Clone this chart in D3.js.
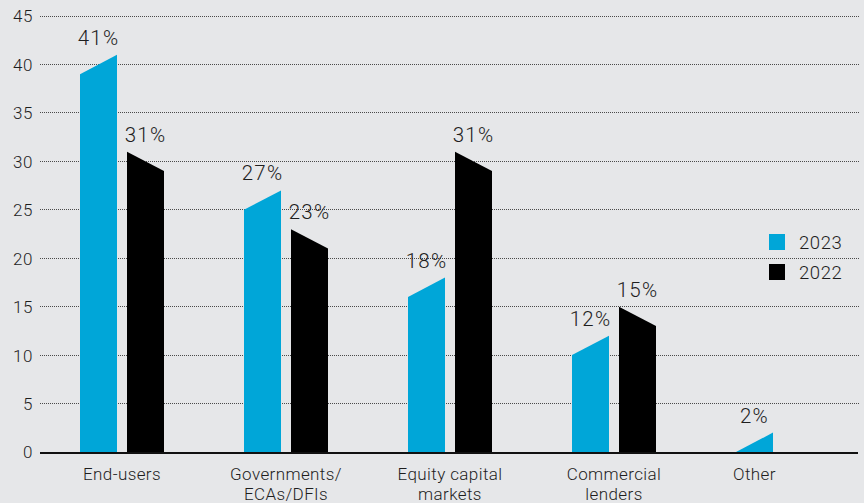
<!DOCTYPE html>
<html>
<head>
<meta charset="utf-8">
<script src="https://cdn.jsdelivr.net/npm/d3@7"></script>
<style>
  html, body { margin: 0; padding: 0; background: #e6e7e9; }
  svg { display: block; font-family: Roboto, "Liberation Sans", Arial, sans-serif; font-weight: 300; }
</style>
</head>
<body>
<svg id="chart" width="864" height="503"></svg>
<script>
// Sources of funding, share of respondents (%)
const categories = [["End-users"], ["Governments/", "ECAs/DFIs"], ["Equity capital", "markets"], ["Commercial", "lenders"], ["Other"]];
const series = ["2023", "2022"];
const values2023 = [41, 27, 18, 12, 2];
const values2022 = [31, 23, 31, 15, null];
const yTicks = [0, 5, 10, 15, 20, 25, 30, 35, 40, 45];
const colors = { "2023": "#00a6d8", "2022": "#000000" };
const slant = 2; // bar tops are cut on a slope of this many units

const svg = d3.select("#chart");

const catKeys = categories.map(c => c.join(" "));
const x0 = d3.scaleBand().domain(catKeys).range([40, 860]).padding(0);
const x1 = d3.scaleBand().domain(series).range([40, x0.bandwidth() - 40]).paddingInner(10 / 47).paddingOuter(0);
const y = d3.scaleLinear().domain([0, 45]).range([452, 16]);

// gridlines
svg.append("g")
  .selectAll("line")
  .data(yTicks.filter(t => t > 0))
  .join("line")
  .attr("x1", 40).attr("x2", 860)
  .attr("y1", d => y(d)).attr("y2", d => y(d))
  .attr("stroke", "#4a4a4a")
  .attr("stroke-width", 1)
  .attr("stroke-dasharray", "1,1")
  .attr("shape-rendering", "crispEdges");

// y axis labels
const yAxis = d3.axisLeft(y).tickValues(yTicks).tickSize(0).tickPadding(0);
const gy = svg.append("g").attr("transform", "translate(33,0)").call(yAxis);
gy.select(".domain").remove();
gy.selectAll("text")
  .attr("font-size", 17)
  .attr("fill", "#1e1e1e")
  .attr("letter-spacing", 0.6)
  .attr("dy", "0.35em")
  .style("font-family", "Roboto, 'Liberation Sans', Arial, sans-serif")
  .style("font-weight", 300);

// bars
const rows = catKeys.map((k, i) => ({ key: k, label: categories[i], v: { "2023": values2023[i], "2022": values2022[i] } }));

const groups = svg.append("g").selectAll("g")
  .data(rows)
  .join("g")
  .attr("transform", d => `translate(${x0(d.key)},0)`);

function barPath(s, v) {
  const xl = x1(s), xr = x1(s) + x1.bandwidth();
  const hiLeft = s === "2022";
  const yl = y(hiLeft ? v : Math.max(0, v - slant));
  const yr = y(hiLeft ? Math.max(0, v - slant) : v);
  return `M${xl},${y(0)}L${xl},${yl}L${xr},${yr}L${xr},${y(0)}Z`;
}

groups.selectAll("path")
  .data(d => series.filter(s => d.v[s] != null).map(s => ({ s, v: d.v[s] })))
  .join("path")
  .attr("d", d => barPath(d.s, d.v))
  .attr("fill", d => colors[d.s]);

groups.selectAll("text.val")
  .data(d => series.filter(s => d.v[s] != null).map(s => ({ s, v: d.v[s] })))
  .join("text")
  .attr("class", "val")
  .attr("x", d => x1(d.s) + x1.bandwidth() / 2)
  .attr("y", d => y(d.v) - 10)
  .attr("text-anchor", "middle")
  .attr("font-size", 20.5)
  .attr("letter-spacing", 1.2)
  .attr("fill", "#1e1e1e")
  .text(d => d.v + "%");

// baseline
svg.append("line")
  .attr("x1", 40).attr("x2", 858)
  .attr("y1", y(0) + 1).attr("y2", y(0) + 1)
  .attr("stroke", "#111").attr("stroke-width", 2);

// category labels
groups.append("text")
  .attr("x", d => d.v["2022"] == null ? x1("2023") + x1.bandwidth() / 2 : x0.bandwidth() / 2)
  .attr("y", 480)
  .attr("text-anchor", "middle")
  .attr("font-size", 17)
  .attr("letter-spacing", 0.4)
  .attr("fill", "#1e1e1e")
  .selectAll("tspan")
  .data(d => d.label)
  .join("tspan")
  .attr("x", function () { return d3.select(this.parentNode).attr("x"); })
  .attr("dy", (d, i) => i === 0 ? 0 : 20)
  .text(d => d);

// legend
const legend = svg.append("g").selectAll("g")
  .data(series)
  .join("g")
  .attr("transform", (d, i) => `translate(769,${234 + i * 30})`);
legend.append("rect").attr("width", 16).attr("height", 16).attr("fill", d => colors[d]);
legend.append("text")
  .attr("x", 30).attr("y", 15)
  .attr("font-size", 18.5)
  .attr("letter-spacing", 0.6)
  .attr("fill", "#1e1e1e")
  .text(d => d);
</script>
</body>
</html>
